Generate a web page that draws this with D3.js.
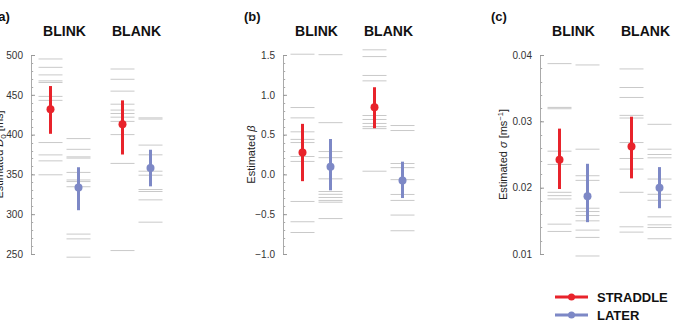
<!DOCTYPE html>
<html>
<head>
<meta charset="utf-8">
<script src="https://cdn.jsdelivr.net/npm/d3@7/dist/d3.min.js"></script>
<style>
  html, body { margin: 0; padding: 0; background: #fff; }
  svg { display: block; font-family: "Liberation Sans", Arial, Helvetica, sans-serif; }
</style>
</head>
<body>
<div id="chart"></div>
<script>
// ---------- DATA ----------
const conditions = ["BLINK", "BLANK"];
const series = ["STRADDLE", "LATER"];
const seriesColors = ["#e8232b", "#7d88c6"];
const panelLabels = ["(a)", "(b)", "(c)"];

// Panel (a): Estimated D0 [ms]
const aDomain = [250, 500];
const aTicks = [250, 300, 350, 400, 450, 500];
const aTickLabels = ["250", "300", "350", "400", "450", "500"];
const aMeans = [[432, 333.5], [413, 358]];          // [condition][series]
const aLow   = [[401, 305],   [375, 335]];
const aHigh  = [[461, 359],   [443, 381]];
const aBlinkStraddle = [495, 484.5, 475, 467.5, 465.5, 448, 443, 390, 374.5, 367, 349.5];
const aBlinkLater    = [395, 381.5, 372, 370.5, 352.5, 343, 341, 334.5, 275, 269, 246];
const aBlankStraddle = [482.4, 469.5, 454.6, 438.2, 430.8, 426.5, 421.9, 416.6, 400, 363.8, 254.3];
const aBlankLater    = [421, 419.5, 386.8, 374.6, 354, 349, 331, 328.5, 318, 290];

// Panel (b): Estimated beta
const bDomain = [-1.0, 1.5];
const bTicks = [-1.0, -0.5, 0.0, 0.5, 1.0, 1.5];
const bTickLabels = ["\u22121.0", "\u22120.5", "0.0", "0.5", "1.0", "1.5"];
const bMeans = [[0.275, 0.095], [0.845, -0.078]];
const bLow   = [[-0.085, -0.2], [0.58, -0.297]];
const bHigh  = [[0.635, 0.445], [1.095, 0.16]];
const bBlinkStraddle = [1.51, 0.84, 0.71, 0.535, 0.44, 0.40, 0.225, 0.163, -0.34, -0.595, -0.73];
const bBlinkLater    = [1.504, 0.65, 0.287, 0.21, -0.056, -0.215, -0.25, -0.29, -0.327, -0.349, -0.555];
const bBlankStraddle = [1.565, 1.48, 1.243, 1.175, 0.74, 0.69, 0.64, 0.6, 0.575, 0.04];
const bBlankLater    = [0.614, 0.551, 0.137, 0.085, -0.066, -0.252, -0.327, -0.511, -0.708];

// Panel (c): Estimated sigma [ms^-1]
const cDomain = [0.01, 0.04];
const cTicks = [0.01, 0.02, 0.03, 0.04];
const cTickLabels = ["0.01", "0.02", "0.03", "0.04"];
const cMeans = [[0.0242, 0.0187], [0.0262, 0.0200]];
const cLow   = [[0.0198, 0.0148], [0.0214, 0.0169]];
const cHigh  = [[0.0289, 0.0236], [0.0307, 0.0231]];
const cBlinkStraddle = [0.0387, 0.0321, 0.0319, 0.0255, 0.0235, 0.0193, 0.0188, 0.0183, 0.0145, 0.0134];
const cBlinkLater    = [0.0385, 0.0258, 0.0218, 0.0211, 0.0169, 0.0164, 0.0158, 0.0150, 0.0136, 0.0125, 0.0097];
const cBlankStraddle = [0.0379, 0.0351, 0.0336, 0.0309, 0.0305, 0.0268, 0.0244, 0.0228, 0.0193, 0.0141, 0.0133];
const cBlankLater    = [0.02955, 0.0258, 0.0250, 0.0245, 0.0213, 0.0190, 0.0181, 0.0156, 0.0144, 0.0140, 0.0123];

const legendLabels = ["STRADDLE", "LATER"];

// ---------- LAYOUT ----------
const W = 673, H = 327;
const svg = d3.select("#chart").append("svg").attr("width", W).attr("height", H);

const panels = [
  { axisX: 31,  domain: aDomain, ticks: aTicks, tickLabels: aTickLabels, minor: 10,
    means: aMeans, low: aLow, high: aHigh,
    subjects: [[aBlinkStraddle, aBlinkLater], [aBlankStraddle, aBlankLater]],
    titleDx: -28, labelX: -6, title: "D" },
  { axisX: 283, domain: bDomain, ticks: bTicks, tickLabels: bTickLabels, minor: 0.1,
    means: bMeans, low: bLow, high: bHigh,
    subjects: [[bBlinkStraddle, bBlinkLater], [bBlankStraddle, bBlankLater]],
    titleDx: -28, labelX: 244, title: "beta" },
  { axisX: 540, domain: cDomain, ticks: cTicks, tickLabels: cTickLabels, minor: 0.002,
    means: cMeans, low: cLow, high: cHigh,
    subjects: [[cBlinkStraddle, cBlinkLater], [cBlankStraddle, cBlankLater]],
    titleDx: -33, labelX: 491, title: "sigma" }
];

const yTop = 55, yBottom = 254;
const groupX = d3.scalePoint().domain(conditions).range([33.5, 105.5]);
const innerX = d3.scalePoint().domain(series).range([-14, 14]);
const halfLine = 12;

panels.forEach((p, pi) => {
  const g = svg.append("g").attr("transform", `translate(${p.axisX},0)`);
  const y = d3.scaleLinear().domain(p.domain).range([yBottom, yTop]);

  // minor ticks
  const nMinor = Math.round((p.domain[1] - p.domain[0]) / p.minor);
  const minorVals = d3.range(nMinor + 1).map(i => p.domain[0] + i * p.minor);
  g.append("g").selectAll("line").data(minorVals).join("line")
    .attr("x1", 0).attr("x2", 2.2)
    .attr("y1", d => Math.round(y(d)) + 0.5).attr("y2", d => Math.round(y(d)) + 0.5)
    .attr("stroke", "#aaa").attr("stroke-width", 1);

  // axis
  const axis = d3.axisLeft(y).tickValues(p.ticks)
    .tickFormat((d, i) => p.tickLabels[i]).tickSizeInner(-4).tickSizeOuter(0).tickPadding(8);
  const ag = g.append("g").call(axis);
  ag.select(".domain").attr("stroke", "#aaa");
  ag.selectAll(".tick line").attr("stroke", "#999");
  ag.selectAll(".tick text").attr("fill", "#333").attr("font-size", 10)
    .attr("font-family", '"Liberation Sans", Arial, sans-serif');

  // y title
  const t = g.append("text")
    .attr("transform", `translate(${p.titleDx},${(yTop + yBottom) / 2}) rotate(-90)`)
    .attr("text-anchor", "middle").attr("font-size", 11).attr("fill", "#222");
  if (p.title === "D") {
    t.append("tspan").text("Estimated ");
    t.append("tspan").attr("font-style", "italic").text("D");
    t.append("tspan").attr("font-size", 8).attr("dy", 2.5).text("0");
    t.append("tspan").attr("dy", -2.5).text(" [ms]");
  } else if (p.title === "beta") {
    t.append("tspan").text("Estimated ");
    t.append("tspan").attr("font-style", "italic").text("\u03b2");
  } else {
    t.append("tspan").text("Estimated ");
    t.append("tspan").attr("font-style", "italic").text("\u03c3");
    t.append("tspan").text(" [ms");
    t.append("tspan").attr("font-size", 7.5).attr("dy", -4).text("\u22121");
    t.append("tspan").attr("dy", 4).text("]");
  }

  // condition titles
  g.selectAll("text.cond").data(conditions).join("text").attr("class", "cond")
    .attr("x", d => groupX(d)).attr("y", 36)
    .attr("text-anchor", "middle").attr("font-size", 14).attr("font-weight", "bold")
    .attr("fill", "#111").text(d => d);

  // panel label
  svg.append("text").attr("x", p.labelX).attr("y", 21)
    .attr("font-size", 13).attr("font-weight", "bold").attr("fill", "#111")
    .text(panelLabels[pi]);

  conditions.forEach((c, ci) => {
    series.forEach((s, si) => {
      const cx = groupX(c) + innerX(s);
      // individual subject lines
      g.append("g").selectAll("line").data(p.subjects[ci][si]).join("line")
        .attr("x1", cx - halfLine).attr("x2", cx + halfLine)
        .attr("y1", d => y(d)).attr("y2", d => y(d))
        .attr("stroke", "#c9c9c9").attr("stroke-width", 1);
    });
  });
  conditions.forEach((c, ci) => {
    series.forEach((s, si) => {
      const cx = groupX(c) + innerX(s);
      g.append("line")
        .attr("x1", cx).attr("x2", cx)
        .attr("y1", y(p.low[ci][si])).attr("y2", y(p.high[ci][si]))
        .attr("stroke", seriesColors[si]).attr("stroke-width", 3);
      g.append("circle")
        .attr("cx", cx).attr("cy", y(p.means[ci][si])).attr("r", 4)
        .attr("fill", seriesColors[si]);
    });
  });
});

// ---------- LEGEND ----------
const legend = svg.append("g").attr("transform", "translate(555,297)");
legendLabels.forEach((lab, i) => {
  const row = legend.append("g").attr("transform", `translate(0,${i * 18})`);
  row.append("line").attr("x1", 0).attr("x2", 33).attr("y1", 0).attr("y2", 0)
    .attr("stroke", seriesColors[i]).attr("stroke-width", 3);
  row.append("circle").attr("cx", 16.5).attr("cy", 0).attr("r", 3.5).attr("fill", seriesColors[i]);
  row.append("text").attr("x", 42).attr("y", 0).attr("dy", "0.35em")
    .attr("font-size", 13).attr("font-weight", "bold").attr("fill", "#111").text(lab);
});
</script>
</body>
</html>
